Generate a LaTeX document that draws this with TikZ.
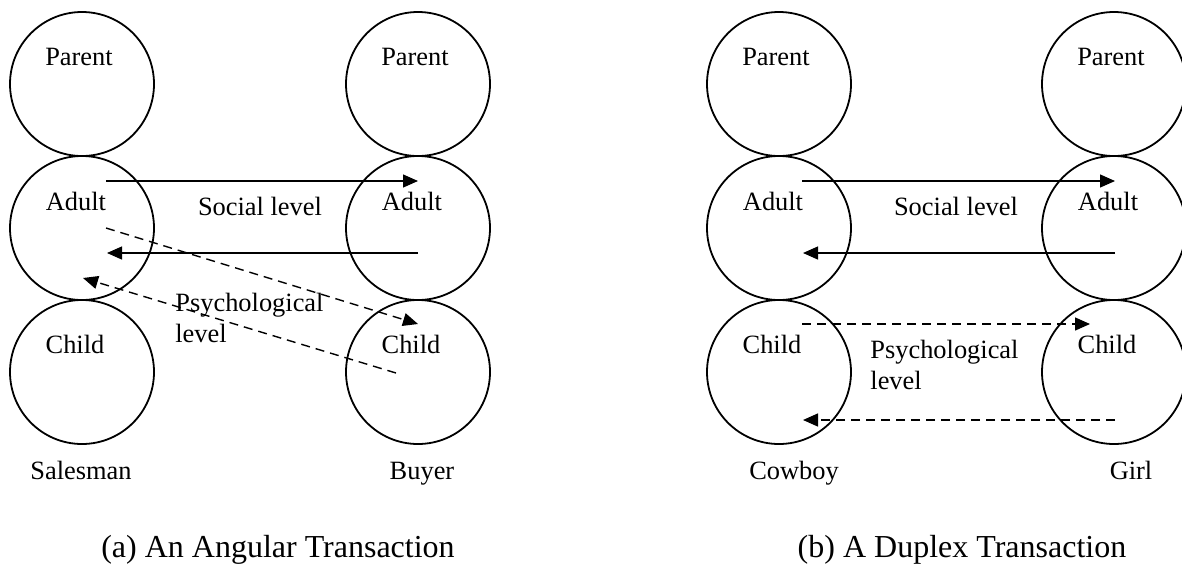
\documentclass[tikz,border=0pt]{standalone}
\usepackage{fontspec}
\setmainfont{Liberation Serif}
\usetikzlibrary{arrows.meta}

\tikzset{
  ego/.style={draw, circle, line width=0.9pt, minimum size=72pt, inner sep=0pt},
  lbl/.style={anchor=base, inner sep=0pt, font=\fontsize{13.2}{15}\selectfont},
  lblw/.style={lbl, anchor=base west},
  msg/.style={line width=0.65pt, -{Triangle[length=7.5pt,width=6.5pt]}},
  hidden/.style={msg, line width=0.7pt, dash pattern=on 4.5pt off 3pt},
  caption/.style={anchor=base, inner sep=0pt, font=\fontsize{16}{19}\selectfont}
}

\begin{document}
\begin{tikzpicture}[x=0.5pt, y=-0.5pt]
    \useasboundingbox (0,0) rectangle (1182,563);

    % ego states: salesman, buyer, cowboy, girl
    \foreach \who/\x in {s/82, b/418, c/779, g/1114}
    {
      \node[ego] (\who P) at (\x,84) {};
      \node[ego] (\who A) at (\x,228) {};
      \node[ego] (\who C) at (\x,372) {};
      \node[lbl] (\who Ptext) at (\x-3,65) {Parent};
      \node[lbl] (\who Atext) at (\x-6,210) {Adult};
      \node[lbl] (\who Ctext) at (\x-7,353) {Child};
    };

    % (a) angular
    \coordinate (a1) at (106,181);
    \coordinate (a2) at (418,181);
    \coordinate (a3) at (418,253);
    \coordinate (a4) at (107,253);
    \coordinate (a5) at (106,228);
    \coordinate (a6) at (418,324);
    \coordinate (a7) at (396,373);
    \coordinate (a8) at (83,278);
    \draw[msg] (a1) -- (a2);
    \draw[msg] (a3) -- (a4);
    \draw[hidden] (a5) -- (a6);
    \draw[hidden] (a7) -- (a8);

    \node[lbl] (asoc) at (260,215) {Social level};
    \node[lblw] (apsy) at (175,311) {Psychological};
    \node[lblw] (alev) at (175,342) {level};
    \node[lbl] (sname) at (81,479) {Salesman};
    \node[lbl] (bname) at (422,479) {Buyer};
    \node[caption] (acap) at (278,557) {(a) An Angular Transaction};

    % (b) duplex
    \coordinate (d1) at (802,181);
    \coordinate (d2) at (1115,181);
    \coordinate (d3) at (1115,253);
    \coordinate (d4) at (803,253);
    \coordinate (d5) at (802,324);
    \coordinate (d6) at (1090,324);
    \coordinate (d7) at (1115,420);
    \coordinate (d8) at (803,420);
    \draw[msg] (d1) -- (d2);
    \draw[msg] (d3) -- (d4);
    \draw[hidden] (d5) -- (d6);
    \draw[hidden] (d7) -- (d8);

    \node[lbl] (dsoc) at (956,215) {Social level};
    \node[lblw] (dpsy) at (870,358) {Psychological};
    \node[lblw] (dlev) at (870,389) {level};
    \node[lbl] (cname) at (794,479) {Cowboy};
    \node[lbl] (gname) at (1131,479) {Girl};
    \node[caption] (dcap) at (962,557) {(b) A Duplex Transaction};
\end{tikzpicture}
\end{document}
